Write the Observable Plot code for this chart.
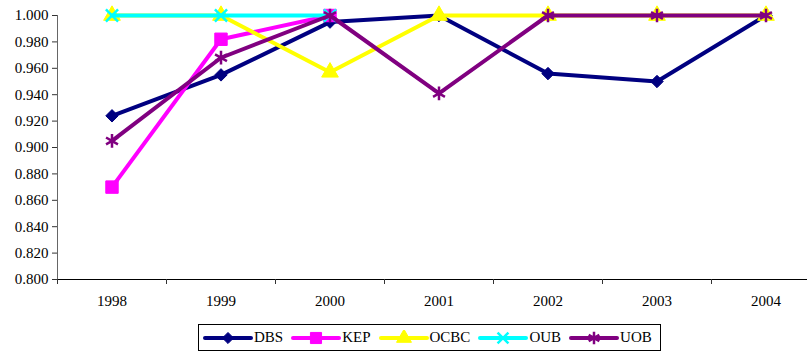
<!DOCTYPE html>
<html>
<head>
<meta charset="utf-8">
<script src="https://cdn.jsdelivr.net/npm/d3@7"></script>
<script src="https://cdn.jsdelivr.net/npm/@observablehq/plot@0.6"></script>
<style>
  html, body { margin: 0; padding: 0; background: #fff; }
  #chart svg { display: block; }
  .legend {
    position: absolute; left: 198px; top: 324px;
    box-sizing: border-box; width: 463px; height: 27px;
    border: 1px solid #000; background: #fff;
    display: flex; align-items: center; padding-left: 4px;
    font-family: "Liberation Serif", "DejaVu Serif", serif; font-size: 15px; color: #000;
  }
  .legend .item { display: flex; align-items: center; margin-right: 8px; }
  .legend svg { display: block; margin-right: 1px; }
</style>
</head>
<body>
<div id="chart" style="position:relative;width:807px;height:351px;"></div>
<script>
// Efficiency scores of Singapore banks, 1998–2004
const years = [1998, 1999, 2000, 2001, 2002, 2003, 2004];
const banks = ["DBS", "KEP", "OCBC", "OUB", "UOB"];
const dbs  = [0.924, 0.955, 0.995, 1.000, 0.956, 0.950, 1.000];
const kep  = [0.870, 0.982, 1.000];            // 1998–2000
const ocbc = [1.000, 1.000, 0.957, 1.000, 1.000, 1.000, 1.000];
const oub  = [1.000, 1.000, 1.000];            // 1998–2000
const uob  = [0.905, 0.968, 1.000, 0.941, 1.000, 1.000, 1.000];
const yTicks = [0.800, 0.820, 0.840, 0.860, 0.880, 0.900, 0.920, 0.940, 0.960, 0.980, 1.000];

const seriesValues = [dbs, kep, ocbc, oub, uob];
const colors = ["#000080", "#FF00FF", "#FFFF00", "#00FFFF", "#800080"];
const styles = [
  {symbol: "diamond2", r: 5.6, filled: true},
  {symbol: "square", r: 7, filled: true},
  {symbol: "triangle", r: 6.2, filled: true},
  {symbol: "times", r: 5.6, filled: false},
  {symbol: "asterisk", r: 6.5, filled: false}
];

const rows = banks.map((bank, i) =>
  seriesValues[i].map((v, j) => ({bank, year: years[j], value: v}))
);

// boundaries between year categories carry the tick marks
const boundaries = [1997.5, 1998.5, 1999.5, 2000.5, 2001.5, 2002.5, 2003.5];

const marks = [
  Plot.ruleY([0.8], {stroke: "#000", strokeWidth: 1}),
  Plot.ruleX([1997.5], {y1: 0.8, y2: 1.0, stroke: "#666", strokeWidth: 1}),
  Plot.axisY({ticks: yTicks, tickSize: 5, tickPadding: 4, tickFormat: d => d.toFixed(3), label: null, stroke: "#333"}),
  Plot.axisX({ticks: boundaries, tickSize: 5, tickFormat: () => "", label: null, stroke: "#333"}),
  Plot.axisX({ticks: years, tickSize: 0, tickPadding: 16, tickFormat: d => String(d), label: null})
];

rows.forEach((data, i) => {
  const s = styles[i];
  marks.push(Plot.line(data, {x: "year", y: "value", stroke: colors[i], strokeWidth: 4, strokeLinejoin: "round"}));
  marks.push(Plot.dot(data, {
    x: "year", y: "value", symbol: () => s.symbol, r: s.r,
    fill: s.filled ? colors[i] : "none", stroke: colors[i],
    strokeWidth: s.filled ? 1 : 2.5
  }));
});

const chart = Plot.plot({
  width: 807,
  height: 322,
  marginLeft: 57,
  marginRight: 0,
  marginTop: 15,
  marginBottom: 43,
  style: {fontFamily: '"Liberation Serif", "DejaVu Serif", serif', fontSize: "15px", color: "#000", background: "#fff", overflow: "hidden"},
  x: {type: "linear", domain: [1997.5, 2004.5], range: [57, 820], axis: null},
  y: {domain: [0.8, 1.0], axis: null},
  symbol: {type: "identity"},
  marks
});
document.getElementById("chart").appendChild(chart);

// legend: line swatch with marker, then bank name
const legend = document.createElement("div");
legend.className = "legend";
const symbolTypes = {diamond2: d3.symbolDiamond2, square: d3.symbolSquare, triangle: d3.symbolTriangle, times: d3.symbolTimes, asterisk: d3.symbolAsterisk};
banks.forEach((bank, i) => {
  const s = styles[i];
  const item = document.createElement("div");
  item.className = "item";
  const sw = d3.create("svg").attr("width", 50).attr("height", 16);
  sw.append("line").attr("x1", 2).attr("x2", 48).attr("y1", 8).attr("y2", 8)
    .attr("stroke", colors[i]).attr("stroke-width", 4).attr("stroke-linecap", "round");
  sw.append("path")
    .attr("transform", "translate(25,8)")
    .attr("d", d3.symbol(symbolTypes[s.symbol], Math.PI * s.r * s.r * 0.8)())
    .attr("fill", s.filled ? colors[i] : "none")
    .attr("stroke", colors[i]).attr("stroke-width", s.filled ? 1 : 2.5);
  item.appendChild(sw.node());
  const label = document.createElement("span");
  label.textContent = bank;
  item.appendChild(label);
  legend.appendChild(item);
});
document.getElementById("chart").appendChild(legend);
</script>
</body>
</html>
